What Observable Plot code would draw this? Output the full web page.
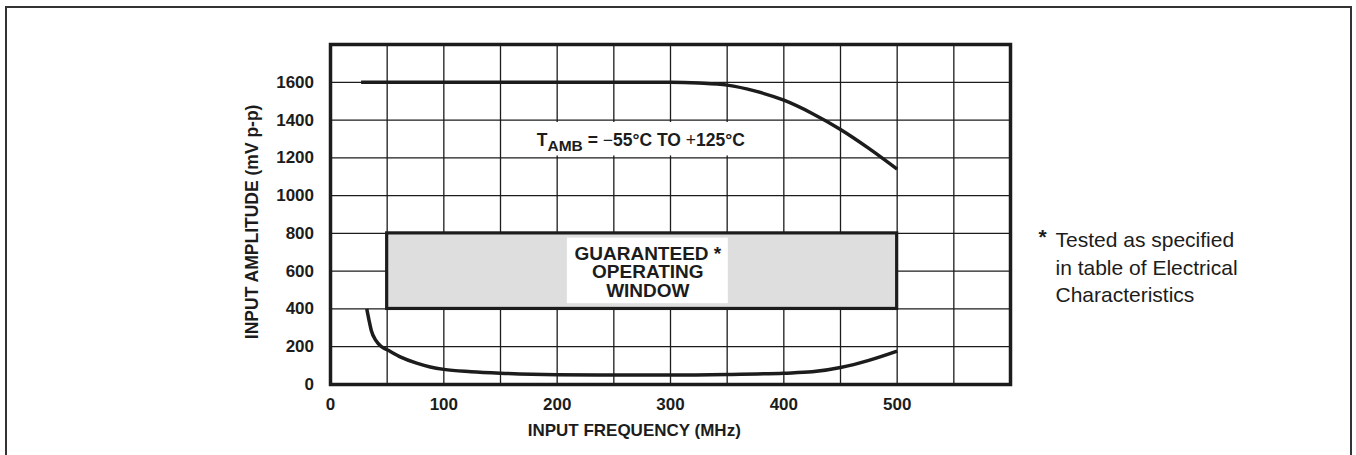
<!DOCTYPE html>
<html>
<head>
<meta charset="utf-8">
<script src="https://cdn.jsdelivr.net/npm/d3@7"></script>
<script src="https://cdn.jsdelivr.net/npm/@observablehq/plot@0.6"></script>
<style>
  html, body { margin: 0; padding: 0; background: #ffffff; overflow: hidden; }
  #wrap { position: relative; width: 1356px; height: 455px; }
  #border { position: absolute; left: 5px; top: 6px; width: 1347px; height: 470px;
            box-sizing: border-box; border: 2.5px solid #333; pointer-events: none; }
  #chart svg { display: block; }
</style>
</head>
<body>
<div id="wrap"><div id="chart"></div><div id="border"></div></div>
<script>
// ---- data ----
const freqUpper = [27, 100, 200, 300, 325, 350, 375, 400, 425, 450, 475, 500];
const ampUpper  = [1600, 1600, 1600, 1600, 1596, 1585, 1553, 1505, 1435, 1350, 1250, 1140];

const freqLower = [32, 34, 36, 40, 45, 50, 62, 76, 88, 100, 124, 150, 200, 250, 300, 350, 400, 425, 450, 475, 500];
const ampLower  = [400, 340, 286, 233, 200, 184, 145, 113, 93, 80, 68, 60, 52, 50, 50, 53, 60, 67, 90, 128, 177];

const windowFreq = [50, 500];
const windowAmp  = [400, 800];

const windowLabelBox = [{x1: 209, x2: 351, y1: 428, y2: 775}];
const tambLabelBox   = [{x1: 180, x2: 372, y1: 1210, y2: 1387}];

const xGridTicks  = [0, 50, 100, 150, 200, 250, 300, 350, 400, 450, 500, 550, 600];
const xTickLabels = [0, 100, 200, 300, 400, 500];
const yGridTicks  = [0, 200, 400, 600, 800, 1000, 1200, 1400, 1600, 1800];
const yTickLabels = [0, 200, 400, 600, 800, 1000, 1200, 1400, 1600];

const xLabel = "INPUT FREQUENCY (MHz)";
const yLabel = "INPUT AMPLITUDE (mV p-p)";
const windowText = "GUARANTEED *\nOPERATING\nWINDOW";
const tambMain = "T";
const tambSub = "AMB";
const tambRest = [" = ", "\u2212", "55\u00b0C TO ", "+", "125\u00b0C"];
const tambText = tambMain + tambSub + tambRest.join("");
const footnoteText = "Tested as specified\nin table of Electrical\nCharacteristics";

const ink = "#1c1c1c";

const chart = Plot.plot({
  width: 1356,
  height: 455,
  marginLeft: 330,
  marginRight: 346,
  marginTop: 44,
  marginBottom: 71,
  style: {fontFamily: "'Liberation Sans', Arial, Helvetica, sans-serif", background: "transparent", overflow: "visible", color: ink},
  x: {domain: [0, 600]},
  y: {domain: [0, 1800]},
  marks: [
    Plot.gridX(xGridTicks, {stroke: ink, strokeOpacity: 1, strokeWidth: 1.3}),
    Plot.gridY(yGridTicks, {stroke: ink, strokeOpacity: 1, strokeWidth: 1.3}),
    Plot.rect([0], {x1: windowFreq[0], x2: windowFreq[1], y1: windowAmp[0], y2: windowAmp[1],
                    fill: "#dedede", stroke: ink, strokeWidth: 3.2}),
    Plot.rect(windowLabelBox, {x1: "x1", x2: "x2", y1: "y1", y2: "y2", fill: "white"}),
    Plot.rect(tambLabelBox, {x1: "x1", x2: "x2", y1: "y1", y2: "y2", fill: "white"}),
    Plot.line(ampUpper, {x: freqUpper, y: ampUpper, curve: "monotone-x", stroke: ink, strokeWidth: 3.5, strokeLinecap: "butt"}),
    Plot.line(ampLower, {x: freqLower, y: ampLower, curve: "monotone-x", stroke: ink, strokeWidth: 3.5, strokeLinecap: "butt"}),
    Plot.text([windowText], {x: 280, y: 593, text: d => d, fontSize: 19, fontWeight: "bold",
                             lineHeight: 0.98, lineAnchor: "middle", textAnchor: "middle", fill: ink}),
    Plot.text([tambText], {x: 182, y: 1261, text: d => d, fontSize: 17.5, fontWeight: "bold",
                           textAnchor: "start", lineAnchor: "bottom", fill: ink}),
    Plot.text([xLabel], {x: 268, frameAnchor: "bottom", dy: 46, text: d => d, fontSize: 17, fontWeight: "bold",
                         lineAnchor: "middle", textAnchor: "middle", fill: ink}),
    Plot.text([yLabel], {y: 861, frameAnchor: "left", dx: -78.3, rotate: -90, text: d => d, fontSize: 17.5, fontWeight: "bold",
                         lineAnchor: "middle", textAnchor: "middle", fill: ink}),
    Plot.text(["*"], {frameAnchor: "top-right", dx: 28, dy: 185, text: d => d, fontSize: 21, fontWeight: "bold",
                      textAnchor: "start", lineAnchor: "top", fill: ink}),
    Plot.text([footnoteText], {frameAnchor: "top-right", dx: 45, dy: 221.5, text: d => d, fontSize: 21,
                               lineHeight: 1.31, textAnchor: "start", lineAnchor: "middle", fill: ink}),
    Plot.frame({stroke: ink, strokeWidth: 3.5}),
    Plot.axisX(xTickLabels, {tickSize: 0, tickPadding: 13, fontSize: 17, fontWeight: "bold", label: null, fill: ink, tickFormat: d => String(d)}),
    Plot.axisY(yTickLabels, {tickSize: 0, tickPadding: 16.5, fontSize: 17, fontWeight: "bold", label: null, fill: ink, tickFormat: d => String(d)})
  ]
});

// Turn the T_AMB label into one text element with a lowered subscript
d3.select(chart).selectAll("text").filter(function () { return this.textContent === tambText; })
  .each(function () {
    const t = d3.select(this);
    t.text(null);
    t.append("tspan").text(tambMain);
    t.append("tspan").attr("dy", 5).attr("font-size", 15.5).text(tambSub);
    tambRest.forEach((s, i) => {
      const sp = t.append("tspan").text(s);
      if (i === 0) sp.attr("dy", -5);
      if (s === "\u2212" || s === "+") sp.attr("font-weight", "normal");
    });
  });

document.getElementById("chart").appendChild(chart);
</script>
</body>
</html>
